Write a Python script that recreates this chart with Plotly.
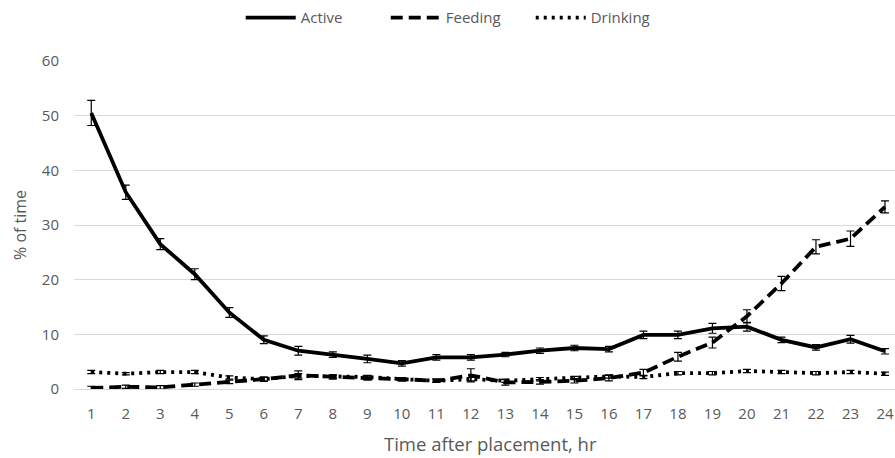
import plotly.graph_objects as go

hours = list(range(1, 25))
active = [50.5, 36, 26.5, 21, 14, 9, 7, 6.3, 5.5, 4.7, 5.8, 5.8, 6.3, 7, 7.5, 7.3, 9.9, 9.9, 11.1, 11.4, 9, 7.6, 9.1, 6.9]
active_err = [2.3, 1.3, 1.0, 1.0, 0.9, 0.7, 0.8, 0.5, 0.7, 0.5, 0.5, 0.5, 0.4, 0.5, 0.5, 0.5, 0.7, 0.7, 0.9, 0.8, 0.5, 0.5, 0.7, 0.5]
feeding = [0.2, 0.4, 0.3, 0.8, 1.3, 1.8, 2.5, 2.2, 2.0, 1.8, 1.5, 2.5, 1.2, 1.3, 1.5, 2.0, 3.0, 5.9, 8.5, 13.3, 19.3, 26.0, 27.5, 33.3]
feeding_err = [0.3, 0.3, 0.3, 0.3, 0.3, 0.4, 0.8, 0.4, 0.4, 0.3, 0.3, 1.2, 0.5, 0.4, 0.4, 0.5, 0.6, 0.8, 1.0, 1.2, 1.3, 1.3, 1.4, 1.1]
drinking = [3.1, 2.8, 3.1, 3.1, 2.1, 1.8, 2.4, 2.3, 2.2, 1.8, 1.5, 1.8, 1.5, 1.8, 2.0, 2.3, 2.2, 2.9, 2.9, 3.3, 3.1, 2.9, 3.1, 2.8]
drinking_err = [0.3, 0.2, 0.3, 0.3, 0.3, 0.3, 0.4, 0.3, 0.3, 0.3, 0.3, 0.3, 0.3, 0.3, 0.3, 0.3, 0.3, 0.3, 0.3, 0.3, 0.3, 0.3, 0.3, 0.3]
y_ticks = [0, 10, 20, 30, 40, 50, 60]

def err(vals):
    return dict(type="data", array=vals, visible=True, color="black", thickness=1.2, width=4)

fig = go.Figure()
fig.add_trace(go.Scatter(x=hours, y=active, name="Active", mode="lines",
                         line=dict(color="black", width=3.8), error_y=err(active_err)))
fig.add_trace(go.Scatter(x=hours, y=feeding, name="Feeding", mode="lines",
                         line=dict(color="black", width=3.8, dash="12px,6px"), error_y=err(feeding_err)))
fig.add_trace(go.Scatter(x=hours, y=drinking, name="Drinking", mode="lines",
                         line=dict(color="black", width=3.8, dash="3px,5px"), error_y=err(drinking_err)))

font_fam = "Open Sans, Lato, sans-serif"
grey = "#595959"
fig.update_layout(
    width=895, height=458,
    margin=dict(l=74, r=0, t=61, b=69, autoexpand=False),
    paper_bgcolor="white", plot_bgcolor="white",
    font=dict(family=font_fam, color=grey, size=15),
    showlegend=True,
    legend=dict(orientation="h", x=0.468, xanchor="center", yref="container", y=0.961, yanchor="middle",
                font=dict(size=15, color=grey), itemwidth=50, entrywidth=80, entrywidthmode="pixels",
                tracegroupgap=0),
    xaxis=dict(range=[0.5, 24.29], tickmode="array", tickvals=hours, ticktext=[str(h) for h in hours],
               showgrid=False, zeroline=False, showline=False, ticks="", automargin=False,
               ticklabelstandoff=14,
               tickfont=dict(size=15, color=grey)),
    yaxis=dict(range=[0, 60], tickmode="array", tickvals=y_ticks, showgrid=True, gridcolor="#d9d9d9",
               gridwidth=1, zeroline=True, zerolinecolor="#d9d9d9", zerolinewidth=1, showline=False, ticks="",
               ticklabelstandoff=14, automargin=False,
               tickfont=dict(size=15, color=grey)),
    annotations=[
        dict(text="Time after placement, hr", xref="paper", yref="paper", x=0.507, y=(389 - 443) / 328,
             xanchor="center", yanchor="middle", showarrow=False, font=dict(size=18.5, color=grey)),
        dict(text="% of time", xref="paper", yref="paper", x=(20 - 74) / 821, y=0.5, textangle=-90,
             xanchor="center", yanchor="middle", showarrow=False, font=dict(size=16, color=grey)),
    ],
)

fig.write_html("out.html", config={"displayModeBar": False},
               post_script="document.body.style.margin='0';document.body.style.padding='0';")
